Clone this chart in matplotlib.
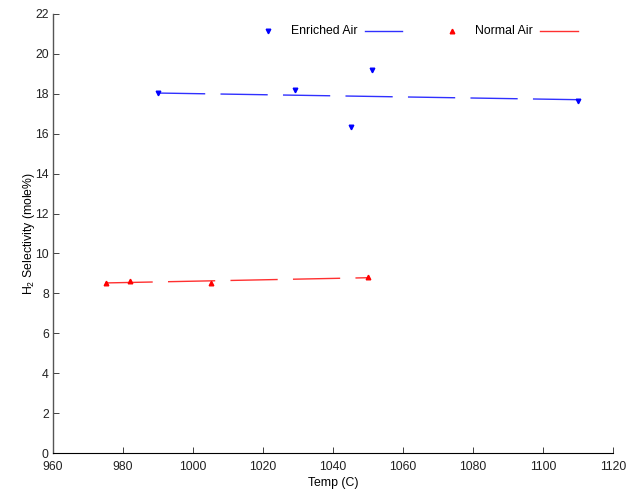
import numpy as np
import matplotlib
matplotlib.use("Agg")
import matplotlib.pyplot as plt
from matplotlib.lines import Line2D

plt.rcParams['font.family'] = ['Liberation Sans', 'DejaVu Sans']
plt.rcParams['mathtext.fontset'] = 'custom'
plt.rcParams['mathtext.rm'] = 'Liberation Sans'
plt.rcParams['mathtext.it'] = 'Liberation Sans'

# Measured selectivity data
enriched_temp = [990, 1029, 1045, 1051, 1110]
enriched_sel = [18.04, 18.2, 16.34, 19.2, 17.65]
normal_temp = [975, 982, 1005, 1050]
normal_sel = [8.52, 8.62, 8.52, 8.82]

xticks = [960, 980, 1000, 1020, 1040, 1060, 1080, 1100, 1120]
yticks = list(range(0, 23, 2))

FS = 8.8

fig = plt.figure(figsize=(6.33, 4.97), dpi=100)
ax = fig.add_axes([53 / 633, 44 / 497, 560 / 633, 439 / 497])


def linear_trend(x, y):
    coef = np.polyfit(x, y, 1)
    xs = np.array([min(x), max(x)])
    return xs, np.polyval(coef, xs)


ax.plot(enriched_temp, enriched_sel, linestyle='none', marker='v',
        markersize=3.3, color='blue', zorder=3)
ax.plot(normal_temp, normal_sel, linestyle='none', marker='^',
        markersize=3.3, color='red', zorder=3)

ex, ey = linear_trend(enriched_temp, enriched_sel)
nx, ny = linear_trend(normal_temp, normal_sel)
ax.plot(ex, ey, color='#3030ff', lw=1.0, dashes=(34, 11))
ax.plot(nx, ny, color='#ff3030', lw=1.0, dashes=(34, 11))

ax.set_xlim(960, 1120)
ax.set_ylim(0, 22)
ax.set_xticks(xticks)
ax.set_yticks(yticks)
ax.tick_params(direction='in', length=4, width=0.6, labelsize=FS,
               colors='#222222')
ax.tick_params(axis='x', pad=5.5)
ax.tick_params(axis='y', pad=3)
for side in ('top', 'right'):
    ax.spines[side].set_visible(False)
ax.spines['left'].set_color('#555555')
ax.spines['left'].set_linewidth(1.0)
ax.spines['bottom'].set_color('black')
ax.spines['bottom'].set_linewidth(0.8)

ax.set_xlabel('Temp (C)', fontsize=FS, labelpad=3)
ax.set_ylabel('H$_2$ Selectivity (mole%)', fontsize=FS, labelpad=-1)

# Horizontal key above the data
ly = 0.961
tr = ax.transAxes
ax.add_line(Line2D([0.384], [ly], marker='v', markersize=3.3, color='blue',
                   linestyle='none', transform=tr, clip_on=False))
ax.text(0.425, ly, 'Enriched Air', transform=tr, fontsize=FS, va='center',
        ha='left')
ax.add_line(Line2D([0.557, 0.623], [ly, ly], color='#3030ff', lw=1.0,
                   transform=tr, clip_on=False))
ax.add_line(Line2D([0.7125], [ly], marker='^', markersize=3.3, color='red',
                   linestyle='none', transform=tr, clip_on=False))
ax.text(0.7536, ly, 'Normal Air', transform=tr, fontsize=FS, va='center',
        ha='left')
ax.add_line(Line2D([0.8696, 0.9375], [ly, ly], color='#ff3030', lw=1.0,
                   transform=tr, clip_on=False))

fig.savefig('out.png', dpi=100)
